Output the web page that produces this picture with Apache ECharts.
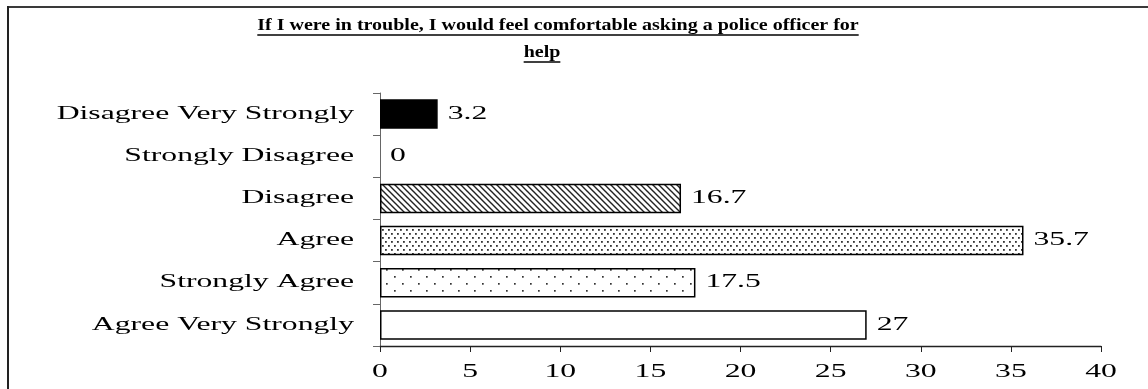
<!DOCTYPE html>
<html>
<head>
<meta charset="utf-8">
<script src="https://cdn.jsdelivr.net/npm/echarts@6/dist/echarts.min.js"></script>
<style>
  html, body { margin: 0; padding: 0; background: #fff; }
  #chart { width: 1148px; height: 389px; }
</style>
</head>
<body>
<div id="chart"></div>
<script>
// Survey responses, listed top to bottom
const categories = [
  'Disagree Very Strongly',
  'Strongly Disagree',
  'Disagree',
  'Agree',
  'Strongly Agree',
  'Agree Very Strongly'
];
const percentages = [3.2, 0, 16.7, 35.7, 17.5, 27];
const xTicks = [0, 5, 10, 15, 20, 25, 30, 35, 40];
const titleLines = [
  'If I were in trouble, I would feel comfortable asking a police officer for',
  'help'
];

const SERIF = '"Liberation Serif", "Times New Roman", serif';
const LABEL_FONT = '18px ' + SERIF;
const TITLE_FONT = 'bold 16px ' + SERIF;
// The typeface is set wide: glyphs are stretched horizontally
const WIDE = 1.76;
const TITLE_WIDE = 1.25;

// Fill patterns drawn on small tiles
function tile(w, h, draw) {
  const c = document.createElement('canvas');
  c.width = w; c.height = h;
  const ctx = c.getContext('2d');
  ctx.fillStyle = '#fff';
  ctx.fillRect(0, 0, w, h);
  draw(ctx);
  return { image: c, repeat: 'repeat' };
}
const hatch = tile(6, 6, ctx => {
  ctx.strokeStyle = '#222';
  ctx.lineWidth = 1.4;
  ctx.beginPath();
  ctx.moveTo(-1, -1); ctx.lineTo(7, 7);
  ctx.moveTo(-7, -1); ctx.lineTo(1, 7);
  ctx.moveTo(5, -1); ctx.lineTo(13, 7);
  ctx.stroke();
});
const denseDots = tile(6, 8, ctx => {
  ctx.fillStyle = '#333';
  ctx.fillRect(1, 1, 1.8, 1.8);
  ctx.fillRect(4, 5, 1.8, 1.8);
});
const sparseDots = tile(16, 14, ctx => {
  ctx.fillStyle = '#333';
  ctx.fillRect(2, 3, 1.7, 1.7);
  ctx.fillRect(10, 10, 1.7, 1.7);
});
const fills = ['#000', '#fff', hatch, denseDots, sparseDots, '#fff'];

// Title underline widths
const meas = document.createElement('canvas').getContext('2d');
meas.font = TITLE_FONT;
const titleW = titleLines.map(t => meas.measureText(t).width * TITLE_WIDE);
const titleX = [558, 542];
const titleY = [26, 53];

function wideText(x, y, text, align, vAlign) {
  return {
    type: 'text', x: x, y: y, scaleX: WIDE,
    style: { text: text, font: LABEL_FONT, fill: '#000', align: align, verticalAlign: vAlign }
  };
}

const chart = echarts.init(document.getElementById('chart'), null, { renderer: 'canvas' });
chart.setOption({
  animation: false,
  backgroundColor: '#fff',
  grid: { left: 380, right: 47, top: 93, bottom: 43 },
  xAxis: {
    type: 'value',
    min: 0, max: 40, interval: 5,
    axisLine: { show: true, lineStyle: { color: '#222', width: 1.3 } },
    axisTick: { show: true, length: 6, lineStyle: { color: '#222' } },
    splitLine: { show: false },
    axisLabel: { show: false }
  },
  yAxis: {
    type: 'category',
    data: categories,
    inverse: true,
    axisLine: { show: true, lineStyle: { color: '#666', width: 1 } },
    axisTick: { show: true, length: 7, lineStyle: { color: '#666' } },
    axisLabel: { show: false }
  },
  series: [
    {
      type: 'bar',
      data: percentages.map((v, i) => ({
        value: v,
        // an empty bar gets no outline
        itemStyle: { color: fills[i], borderWidth: v === 0 ? 0 : 1.5 }
      })),
      barCategoryGap: '30%',
      itemStyle: { borderColor: '#000' },
      label: { show: false }
    },
    // value labels to the right of each bar
    {
      type: 'custom',
      clip: false,
      silent: true,
      data: percentages.map((v, i) => [v, i]),
      renderItem: (params, api) => {
        const p = api.coord([api.value(0), api.value(1)]);
        return wideText(p[0] + 10, p[1], String(percentages[params.dataIndex]), 'left', 'middle');
      }
    },
    // category names left of the axis
    {
      type: 'custom',
      clip: false,
      silent: true,
      data: categories.map((c, i) => [0, i]),
      renderItem: (params, api) => {
        const p = api.coord([0, api.value(1)]);
        return wideText(p[0] - 26, p[1], categories[params.dataIndex], 'right', 'middle');
      }
    },
    // tick values under the x axis
    {
      type: 'custom',
      clip: false,
      silent: true,
      data: xTicks.map(v => [v, categories.length - 1]),
      renderItem: (params, api) => {
        const p = api.coord([api.value(0), api.value(1)]);
        const band = api.size([0, 1])[1];
        return wideText(p[0], p[1] + band / 2 + 26, String(xTicks[params.dataIndex]), 'center', 'middle');
      }
    }
  ],
  graphic: [
    // frame: top and left edges
    { type: 'line', shape: { x1: 7, y1: 7, x2: 1148, y2: 7 }, style: { stroke: '#3a3a3a', lineWidth: 2 } },
    { type: 'line', shape: { x1: 8, y1: 6, x2: 8, y2: 389 }, style: { stroke: '#222', lineWidth: 2 } },
    // title lines, underlined
    { type: 'text', x: titleX[0], y: titleY[0], scaleX: TITLE_WIDE, style: { text: titleLines[0], font: TITLE_FONT, fill: '#000', align: 'center', verticalAlign: 'middle' } },
    { type: 'text', x: titleX[1], y: titleY[1], scaleX: TITLE_WIDE, style: { text: titleLines[1], font: TITLE_FONT, fill: '#000', align: 'center', verticalAlign: 'middle' } },
    { type: 'line', shape: { x1: titleX[0] - titleW[0] / 2, y1: 35, x2: titleX[0] + titleW[0] / 2, y2: 35 }, style: { stroke: '#000', lineWidth: 1.4 } },
    { type: 'line', shape: { x1: titleX[1] - titleW[1] / 2, y1: 62, x2: titleX[1] + titleW[1] / 2, y2: 62 }, style: { stroke: '#000', lineWidth: 1.4 } }
  ]
});
</script>
</body>
</html>
